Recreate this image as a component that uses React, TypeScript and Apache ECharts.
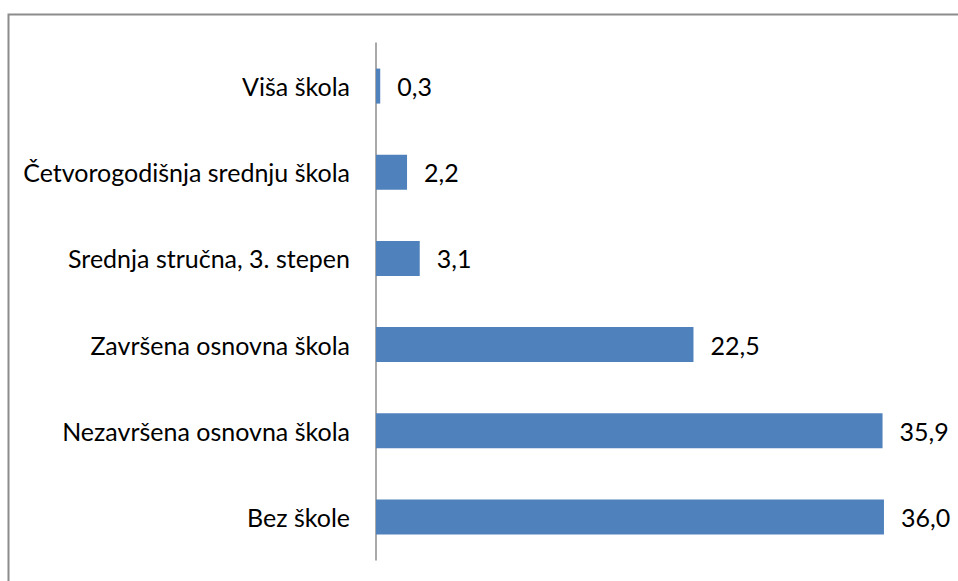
import React, { useEffect, useRef } from "react";
import * as echarts from "echarts";

const categories = [
  "Bez škole",
  "Nezavršena osnovna škola",
  "Završena osnovna škola",
  "Srednja stručna, 3. stepen",
  "Četvorogodišnja srednju škola",
  "Viša škola",
];
const values = [36.0, 35.9, 22.5, 3.1, 2.2, 0.3];

export default function App() {
  const ref = useRef<HTMLDivElement>(null);
  useEffect(() => {
    if (!ref.current) return;
    const chart = echarts.init(ref.current, undefined, { renderer: "svg" });
    const font = "Lato, 'Open Sans', sans-serif";
    chart.setOption({
      animation: false,
      backgroundColor: "#ffffff",
      graphic: [
        {
          type: "rect",
          shape: { x: 8.5, y: 14.5, width: 1000, height: 1000 },
          style: { fill: "none", stroke: "#8c8c8c", lineWidth: 2 },
          silent: true,
        },
      ],
      grid: { left: 376, top: 43, width: 564.4, height: 517 },
      xAxis: {
        type: "value",
        min: 0,
        max: 40,
        show: false,
      },
      yAxis: {
        type: "category",
        data: categories,
        axisLine: { show: true, lineStyle: { color: "#8c8c8c", width: 1.5 } },
        axisTick: { show: false },
        axisLabel: {
          color: "#000",
          fontFamily: font,
          fontSize: 25,
          margin: 26,
        },
      },
      series: [
        {
          type: "bar",
          data: values,
          barWidth: 35,
          itemStyle: { color: "#4F81BD" },
          label: {
            show: true,
            position: "right",
            distance: 17,
            color: "#000",
            fontFamily: font,
            fontSize: 25,
            formatter: (p: any) => p.value.toFixed(1).replace(".", ","),
          },
        },
      ],
    });
    return () => chart.dispose();
  }, []);
  return (
    <div
      ref={ref}
      style={{ position: "fixed", left: 0, top: 0, width: 958, height: 581 }}
    />
  );
}
